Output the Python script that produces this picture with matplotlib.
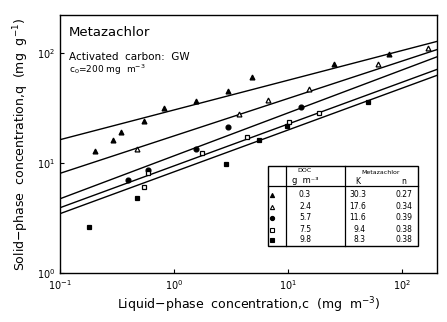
import numpy as np
import matplotlib
matplotlib.use("Agg")
import matplotlib.pyplot as plt
from matplotlib.lines import Line2D

# Isoterma de Freundlich - Metazachlor, carvao ativado GW
doc = ["0.3", "2.4", "5.7", "7.5", "9.8"]
K = [30.3, 17.6, 11.6, 9.4, 8.3]
n = [0.27, 0.34, 0.39, 0.38, 0.38]

# pontos medidos (c em mg/m3, q em mg/g)
c_03 = [0.201, 0.289, 0.344, 0.551, 0.82, 1.56, 2.98, 4.85, 25.6, 76.9]
q_03 = [12.9, 16.2, 19.3, 24.1, 31.9, 36.4, 45.1, 60.5, 78.6, 98.0]
c_24 = [0.471, 3.74, 6.68, 15.3, 61.9, 168.0]
q_24 = [13.3, 27.9, 37.2, 47.1, 78.9, 111.0]
c_57 = [0.395, 0.588, 1.56, 2.98, 13.0]
q_57 = [7.0, 8.6, 13.4, 21.0, 32.3]
c_75 = [0.549, 0.588, 1.77, 4.33, 10.3, 18.8]
q_75 = [6.09, 8.16, 12.3, 17.2, 23.6, 28.7]
c_98 = [0.181, 0.469, 2.84, 5.57, 9.74, 50.0]
q_98 = [2.6, 4.8, 9.8, 16.2, 21.7, 35.9]

xlim = (0.1, 203)
ylim = (1, 221)

# estilo de cada serie: (marker, preenchido)
estilos = [("^", True), ("^", False), ("o", True), ("s", False), ("s", True)]
dados = [(c_03, q_03), (c_24, q_24), (c_57, q_57), (c_75, q_75), (c_98, q_98)]

fig = plt.figure(figsize=(4.47, 3.22), dpi=100)
ax = fig.add_axes([60/447, 1-273/322, 377/447, 258/322])
ax.set_xscale("log")
ax.set_yscale("log")
ax.set_xlim(*xlim)
ax.set_ylim(*ylim)

c_line = np.array(xlim)
for k, nn in zip(K, n):
    ax.plot(c_line, k*c_line**nn, color="black", linewidth=1.0)

for (cc, qq), (m, cheio) in zip(dados, estilos):
    ax.plot(cc, qq, linestyle="none", marker=m, markersize=3.5,
            markerfacecolor="black" if cheio else "white",
            markeredgecolor="black", markeredgewidth=0.9)

ax.tick_params(which="major", direction="in", length=3, labelsize=7, width=0.8)
ax.minorticks_off()
for s in ax.spines.values():
    s.set_linewidth(1.0)

ax.set_xlabel("Liquid$-$phase  concentration,c  (mg  m$^{-3}$)", fontsize=9, labelpad=3)
ax.set_ylabel("Solid$-$phase  concentration,q  (mg  g$^{-1}$)", fontsize=9, labelpad=4)

# textos
fig.text(69/447, 1-33/322, "Metazachlor", fontsize=9.5, va="center")
fig.text(69/447, 1-57/322, "Activated  carbon:  GW", fontsize=7.5, va="center")
fig.text(69/447, 1-70/322, "c$_0$=200 mg  m$^{-3}$", fontsize=6.5, va="center")

# tabela
def px(x, y):
    return x/447, 1-y/322

x0, x1, y0, y1 = 268, 418, 166, 246
fig.add_artist(plt.Rectangle(px(x0, y1), (x1-x0)/447, (y1-y0)/322, transform=fig.transFigure,
                             facecolor="white", edgecolor="black", linewidth=1.0, zorder=5))
for xv in [285.5, 345]:
    fig.add_artist(Line2D([xv/447, xv/447], [1-y0/322, 1-y1/322], transform=fig.transFigure,
                          color="black", linewidth=0.9, zorder=6))
fig.add_artist(Line2D([x0/447, x1/447], [1-186/322, 1-186/322], transform=fig.transFigure,
                      color="black", linewidth=0.9, zorder=6))

fig.text(*px(305, 171), "DOC", fontsize=4.5, ha="center", va="center", zorder=7)
fig.text(*px(305, 180.5), "g  m⁻³", fontsize=6, ha="center", va="center", zorder=7)
fig.text(*px(381, 172), "Metazachlor", fontsize=4.5, ha="center", va="center", zorder=7)
fig.text(*px(358, 181), "K", fontsize=5.5, ha="center", va="center", zorder=7)
fig.text(*px(404, 181), "n", fontsize=5.5, ha="center", va="center", zorder=7)

linhas_y = [194.5, 206.5, 217.5, 229.5, 240]
for yv, d, k, nn, (m, cheio) in zip(linhas_y, doc, K, n, estilos):
    fig.add_artist(Line2D([272/447], [1-yv/322], transform=fig.transFigure, marker=m,
                          markersize=3, linestyle="none",
                          markerfacecolor="black" if cheio else "white",
                          markeredgecolor="black", markeredgewidth=0.8, zorder=7))
    fig.text(*px(305, yv), d, fontsize=5.5, ha="center", va="center", zorder=7)
    fig.text(*px(366, yv), "%.1f" % k, fontsize=5.5, ha="right", va="center", zorder=7)
    fig.text(*px(412, yv), "%.2f" % nn, fontsize=5.5, ha="right", va="center", zorder=7)

fig.savefig("out.png", dpi=100)
